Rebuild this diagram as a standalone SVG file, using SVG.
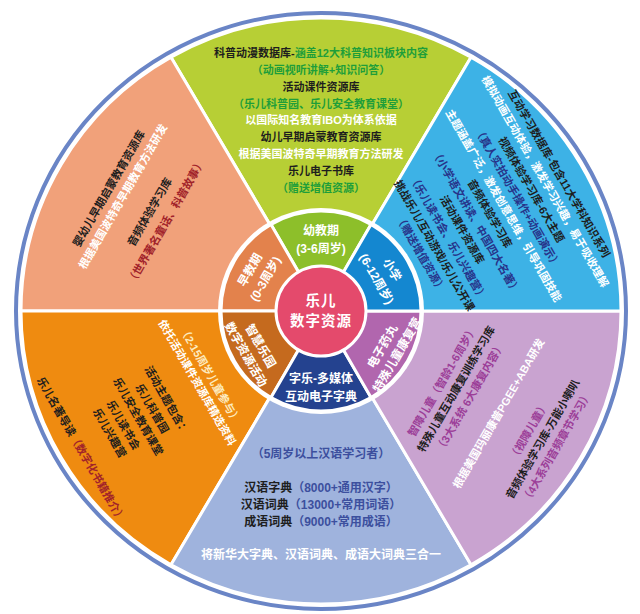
<svg xmlns="http://www.w3.org/2000/svg" width="640" height="614" viewBox="0 0 640 614">
<style>
.t{font-family:"Liberation Sans","Noto Sans CJK SC",sans-serif;font-weight:bold;font-size:11px;text-anchor:middle;dominant-baseline:central}
.m{font-size:12px;fill:#fff}
.dk{fill:#1e1e1e}.wh{fill:#fff}.gr{fill:#1e9e3a}.nv{fill:#27348a}.pu{fill:#9c3e98}.rd{fill:#a1232a}.cr{fill:#fdebc0}.lb{fill:#3c4f9e}
.sep{stroke:#fff;stroke-width:3;stroke-linejoin:round}
</style>
<rect width="640" height="614" fill="#fff"/>
<ellipse cx="321" cy="311" rx="305" ry="298" fill="none" stroke="#6a85c6" stroke-width="4"/>
<g id="outer">
<path id="sec-top" class="sep" fill="#b7cf35" d="M321 311 L471 57.3 A300 293 0 0 0 171 57.3 Z"/>
<path id="sec-tl" class="sep" fill="#f1a17a" d="M321 311 L171 57.3 A300 293 0 0 0 21 311 Z"/>
<path id="sec-bl" class="sep" fill="#ef8b10" d="M321 311 L21 311 A300 293 0 0 0 171 564.7 Z"/>
<path id="sec-b" class="sep" fill="#9fb3dd" d="M321 311 L171 564.7 A300 293 0 0 0 471 564.7 Z"/>
<path id="sec-br" class="sep" fill="#c9a3d0" d="M321 311 L471 564.7 A300 293 0 0 0 621 311 Z"/>
<path id="sec-tr" class="sep" fill="#3db2e6" d="M321 311 L621 311 A300 293 0 0 0 471 57.3 Z"/>
</g>
<g id="ring">
<circle cx="321" cy="311" r="103" fill="#fff"/>
<path class="sep" fill="#8dbf2a" d="M321 311 L371 224.4 A100 100 0 0 0 271 224.4 Z"/>
<path class="sep" fill="#e3824c" d="M321 311 L271 224.4 A100 100 0 0 0 221 311 Z"/>
<path class="sep" fill="#c56a1e" d="M321 311 L221 311 A100 100 0 0 0 271 397.6 Z"/>
<path class="sep" fill="#24428f" d="M321 311 L271 397.6 A100 100 0 0 0 371 397.6 Z"/>
<path class="sep" fill="#b166ae" d="M321 311 L371 397.6 A100 100 0 0 0 421 311 Z"/>
<path class="sep" fill="#1487d0" d="M321 311 L421 311 A100 100 0 0 0 371 224.4 Z"/>
</g>
<g id="center">
<circle cx="321" cy="311" r="45" fill="#e44a6c" stroke="#fff" stroke-width="3"/>
<text class="t" x="321" y="301" style="font-size:14.5px;fill:#fff;letter-spacing:1px">乐儿</text>
<text class="t" x="321" y="321" style="font-size:14.5px;fill:#fff;letter-spacing:1px">数字资源</text>
</g>
<g id="n-youjiao" transform="translate(321,311)">
<text class="t m" y="-80">幼教期</text>
<text class="t m" y="-62">(3-6周岁)</text>
</g>
<g id="n-zaojiao" transform="translate(321,311) rotate(-60)">
<text class="t m" y="-82">早教期</text>
<text class="t m" y="-64">(0-3周岁)</text>
</g>
<g id="n-xiaoxue" transform="translate(321,311) rotate(60)">
<text class="t m" y="-82">小学</text>
<text class="t m" y="-64">(6-12周岁)</text>
</g>
<g id="n-zhihui" transform="translate(321,311) rotate(60)">
<text class="t m" y="70">智慧乐园</text>
<text class="t m" y="87">数字资源活动</text>
</g>
<g id="n-zidian" transform="translate(321,311)">
<text class="t m" y="68">字乐-多媒体</text>
<text class="t m" y="86">互动电子字典</text>
</g>
<g id="n-teshu" transform="translate(321,311) rotate(-60)">
<text class="t m" y="71">电子药丸</text>
<text class="t m" y="88">特殊儿童康复营</text>
</g>
<g id="d-youjiao" transform="translate(321,311)">
<text class="t" y="-258"><tspan class="dk">科普动漫数据库-</tspan><tspan class="gr">涵盖12大科普知识板块内容</tspan></text>
<text class="t gr" y="-241">（动画视听讲解+知识问答）</text>
<text class="t dk" y="-224">活动课件资源库</text>
<text class="t gr" y="-207">（乐儿科普园、乐儿安全教育课堂）</text>
<text class="t wh" y="-191">以国际知名教育IBO为体系依据</text>
<text class="t dk" y="-174">幼儿早期启蒙教育资源库</text>
<text class="t wh" y="-157">根据美国波特奇早期教育方法研发</text>
<text class="t dk" y="-140">乐儿电子书库</text>
<text class="t gr" y="-123">（赠送增值资源）</text>
</g>
<g id="d-zaojiao" transform="translate(321,311) rotate(-60)">
<text class="t dk" y="-245">婴幼儿早期启蒙教育资源库</text>
<text class="t wh" y="-229">根据美国波特奇早期教育方法研发</text>
<text class="t dk" y="-198">音频体验学习库</text>
<text class="t rd" y="-179">（世界著名童话、科普故事）</text>
</g>
<g id="d-xiaoxue" transform="translate(321,311) rotate(60)">
<text class="t dk" y="-275">互动学习数据库-包含11大学科知识系列</text>
<text class="t wh" y="-259">模拟动画互动体验，激发学习兴趣，易于吸收理解</text>
<text class="t dk" y="-243">视频体验学习库-6大主题</text>
<text class="t nv" y="-227">（真人实拍动手操作+动画演示）</text>
<text class="t wh" y="-211">主题涵盖广泛，激发创意思维，引导巩固技能</text>
<text class="t dk" y="-195">音频体验学习库</text>
<text class="t nv" y="-179">（小学语文讲读、中国四大名著）</text>
<text class="t dk" y="-163">活动课件资源库</text>
<text class="t nv" y="-147">（乐儿读书会、乐儿兴趣营）</text>
<text class="t dk" y="-131">挑战乐儿/互动游戏/乐儿公开课</text>
<text class="t nv" y="-115">（赠送增值资源）</text>
</g>
<g id="d-teshu" transform="translate(321,311) rotate(-60)">
<text class="t pu" y="140">智障儿童（智龄1-6周岁）</text>
<text class="t dk" y="156">特殊儿童互动康复训练学习库</text>
<text class="t pu" y="172">（3大系统 6大康复内容）</text>
<text class="t wh" y="205">根据美国玛丽康普PGEE+ABA研发</text>
<text class="t pu" y="240">（视障儿童）</text>
<text class="t dk" y="256">音频体验学习库-万能小喇叭</text>
<text class="t pu" y="272">（4大系列音频章节学习）</text>
</g>
<g id="d-zidian" transform="translate(321,311)" style="font-size:12px">
<text class="t lb" y="143" style="font-size:12px">（5周岁以上汉语学习者）</text>
<text class="t" y="177" style="font-size:12px"><tspan class="dk">汉语字典</tspan><tspan class="lb">（8000+通用汉字）</tspan></text>
<text class="t" y="194" style="font-size:12px"><tspan class="dk">汉语词典</tspan><tspan class="lb">（13000+常用词语）</tspan></text>
<text class="t" y="211" style="font-size:12px"><tspan class="dk">成语词典</tspan><tspan class="lb">（9000+常用成语）</tspan></text>
<text class="t wh" y="244" style="font-size:12px">将新华大字典、汉语词典、成语大词典三合一</text>
</g>
<g id="d-zhihui" transform="translate(321,311) rotate(60)">
<text class="t cr" y="128">（2-15周岁儿童参与）</text>
<text class="t wh" y="143">依托活动课件资源库精选资料</text>
<text class="t dk" y="178">活动主题包含：</text>
<text class="t dk" y="195">乐儿科普园</text>
<text class="t dk" y="211">乐儿安全教育课堂</text>
<text class="t dk" y="228">乐儿读书会</text>
<text class="t dk" y="244">乐儿兴趣营</text>
<text class="t" y="277"><tspan class="dk">乐儿名著导读</tspan><tspan class="rd">（数字化书籍推介）</tspan></text>
</g>
</svg>
